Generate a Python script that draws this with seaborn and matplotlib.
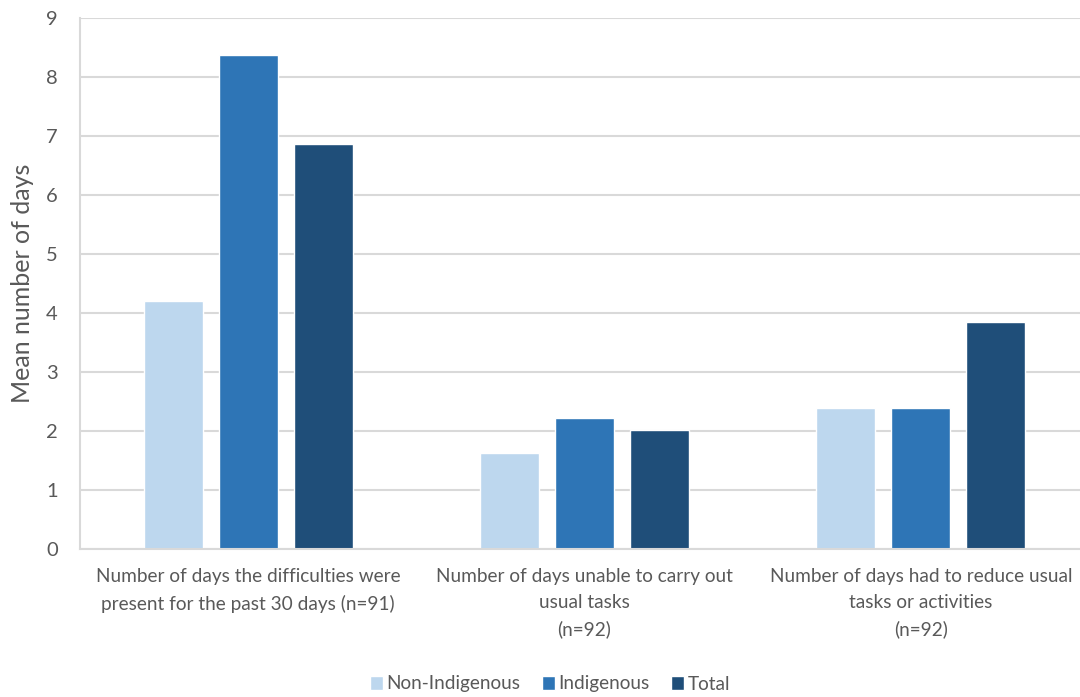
import matplotlib
matplotlib.use("Agg")
import matplotlib.pyplot as plt
import seaborn as sns
import pandas as pd

categories = [
    "Number of days the difficulties were\npresent for the past 30 days (n=91)",
    "Number of days unable to carry out\nusual tasks\n(n=92)",
    "Number of days had to reduce usual\ntasks or activities\n(n=92)",
]
series_names = ["Non-Indigenous", "Indigenous", "Total"]
non_indigenous = [4.2, 1.63, 2.39]
indigenous = [8.37, 2.22, 2.39]
total = [6.87, 2.02, 3.85]
colors = ["#BDD7EE", "#2E75B6", "#1F4E79"]
y_ticks = list(range(0, 10))

rows = []
for name, vals in zip(series_names, [non_indigenous, indigenous, total]):
    for c, v in zip(categories, vals):
        rows.append({"category": c, "group": name, "value": v})
df = pd.DataFrame(rows)

sns.set_theme(style="white")
plt.rcParams["font.family"] = ["Lato", "DejaVu Sans"]

fig = plt.figure(figsize=(10.8, 6.97), dpi=100)
ax = fig.add_axes([80 / 1080, 1 - 549 / 697, 1009 / 1080, (549 - 18) / 697])

sns.barplot(data=df, x="category", y="value", hue="group", order=categories,
            hue_order=series_names, palette=colors, width=0.669, gap=0.215,
            saturation=1, ax=ax, legend=True)

ax.set_ylim(0, 9)
ax.set_xlim(-0.5, 2.5)
ax.set_yticks(y_ticks)
ax.set_xticks(range(len(categories)))
ax.set_xticklabels(categories, linespacing=1.6)
ax.yaxis.grid(True, color="#D9D9D9", linewidth=1.5)
ax.set_axisbelow(True)
for s in ["top", "right"]:
    ax.spines[s].set_visible(False)
ax.spines["left"].set_color("#D9D9D9")
ax.spines["left"].set_linewidth(1.5)
ax.spines["bottom"].set_color("#D9D9D9")
ax.spines["bottom"].set_linewidth(1.5)
ax.tick_params(axis="y", labelsize=14.5, labelcolor="#595959", length=0, pad=16)
ax.tick_params(axis="x", labelsize=13.7, labelcolor="#595959", length=0, pad=14)
ax.set_xlabel("")
ax.set_ylabel("Mean number of days", fontsize=18, color="#595959", labelpad=9)

handles, labels = ax.get_legend_handles_labels()
ax.legend(handles, labels, loc="center", bbox_to_anchor=((550 - 80) / 1009, -(684 - 549) / 531),
          bbox_transform=ax.transAxes, ncol=3, frameon=False, fontsize=13.7,
          handlelength=0.7, handleheight=0.7, handletextpad=0.2, columnspacing=1.1,
          labelcolor="#595959")

fig.savefig("out.png", dpi=100)
